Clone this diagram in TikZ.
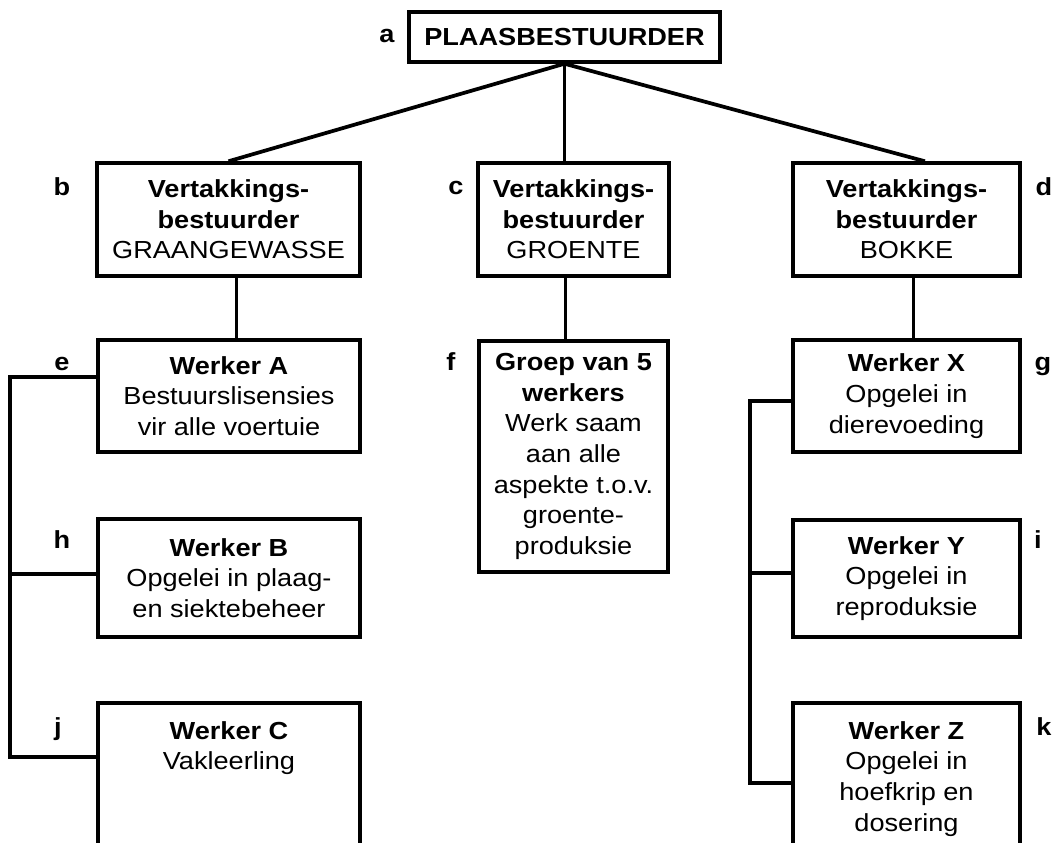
\documentclass[tikz,border=0pt]{standalone}
\usepackage{fontspec}
\setmainfont{Liberation Sans}[FakeStretch=1.1]
\usetikzlibrary{calc}
\tikzset{
  box/.style={draw, line width=2.6pt, align=center, inner sep=0pt, font=\fontsize{18.5}{23}\selectfont},
  txt/.style={align=center, inner sep=0pt, font=\fontsize{18.5}{23}\selectfont},
  conn/.style={line width=2.5pt, line join=miter},
  diag/.style={line width=2.8pt},
  lbl/.style={font=\fontsize{18.5}{23}\selectfont\bfseries, anchor=base, inner sep=0pt},
}
\begin{document}
\begin{tikzpicture}[x=0.75pt,y=-0.75pt]
\useasboundingbox (0,0) rectangle (1054,843);
\clip (0,0) rectangle (1054,843);

% boxes
\node[box, minimum width={311*0.75pt}, minimum height={50*0.75pt}] (a) at (564.5,37) {\textbf{PLAASBESTUURDER}};
\node[box, minimum width={263*0.75pt}, minimum height={113*0.75pt}] (b) at (228.5,219.5) {\textbf{Vertakkings-}\\\textbf{bestuurder}\\GRAANGEWASSE};
\node[box, minimum width={191*0.75pt}, minimum height={113*0.75pt}] (c) at (573.5,219.5) {\textbf{Vertakkings-}\\\textbf{bestuurder}\\GROENTE};
\node[box, minimum width={227*0.75pt}, minimum height={113*0.75pt}] (d) at (906.5,219.5) {\textbf{Vertakkings-}\\\textbf{bestuurder}\\BOKKE};

\node[box, minimum width={262*0.75pt}, minimum height={112*0.75pt}] (e) at (229,396) {\textbf{Werker A}\\Bestuurslisensies\\vir alle voertuie};
\node[box, minimum width={189*0.75pt}, minimum height={231*0.75pt}] (f) at (573.5,456.5) {\textbf{Groep van 5}\\\textbf{werkers}\\Werk saam\\aan alle\\aspekte t.o.v.\\groente-\\produksie};
\node[box, minimum width={227*0.75pt}, minimum height={112*0.75pt}] (g) at (906.5,396) {\textbf{Werker X}\\Opgelei in\\dierevoeding};

\node[box, minimum width={262*0.75pt}, minimum height={118*0.75pt}] (h) at (229,578) {\textbf{Werker B}\\Opgelei in plaag-\\en siektebeheer};
\node[box, minimum width={227*0.75pt}, minimum height={117*0.75pt}] (i) at (906.5,578.5) {\textbf{Werker Y}\\Opgelei in\\reproduksie};

\node[box, minimum width={262*0.75pt}, minimum height={200*0.75pt}] (j) at (229,803) {};
\node[box, minimum width={227*0.75pt}, minimum height={200*0.75pt}] (k) at (906.5,803) {};
\node[txt, anchor=north] (jt) at (229,721) {\textbf{Werker C}\\Vakleerling};
\node[txt, anchor=north] (kt) at (906.5,721) {\textbf{Werker Z}\\Opgelei in\\hoefkrip en\\dosering};

% connectors from top
\draw[diag] (a.south) -- (b.north);
\draw[conn, line width=2pt] (a.south) -- (a.south |- c.north);
\draw[diag] (a.south) -- ($(d.north west)!0.58!(d.north east)$);

\draw[conn] ($(b.south west)!0.53!(b.south east)$) coordinate (bs) -- (bs |- e.north);
\draw[conn] ($(c.south west)!0.46!(c.south east)$) coordinate (cs) -- (cs |- f.north);
\draw[conn] ($(d.south west)!0.53!(d.south east)$) coordinate (ds) -- (ds |- g.north);

% left bus
\coordinate (eL) at (10,377);
\coordinate (hL) at (10,574);
\coordinate (jL) at (10,757);
\draw[conn] (eL -| e.west) -- (eL) -- (jL) -- (jL -| j.west);
\draw[conn] (hL) -- (hL -| h.west);

% right bus
\coordinate (gR) at (750,401);
\coordinate (iR) at (750,573);
\coordinate (kR) at (750,783);
\draw[conn] (gR -| g.west) -- (gR) -- (kR) -- (kR -| k.west);
\draw[conn] (iR) -- (iR -| i.west);

% letter labels
\node[lbl] (la) at (387,42) {a};
\node[lbl] (lb) at (62,195) {b};
\node[lbl] (lc) at (456,194) {c};
\node[lbl] (ld) at (1044,195) {d};
\node[lbl] (le) at (62,370) {e};
\node[lbl] (lf) at (451,370) {f};
\node[lbl] (lg) at (1043,370) {g};
\node[lbl] (lh) at (62,548) {h};
\node[lbl] (li) at (1038,548) {i};
\node[lbl] (lj) at (58,735) {j};
\node[lbl] (lk) at (1044,735) {k};
\end{tikzpicture}
\end{document}
